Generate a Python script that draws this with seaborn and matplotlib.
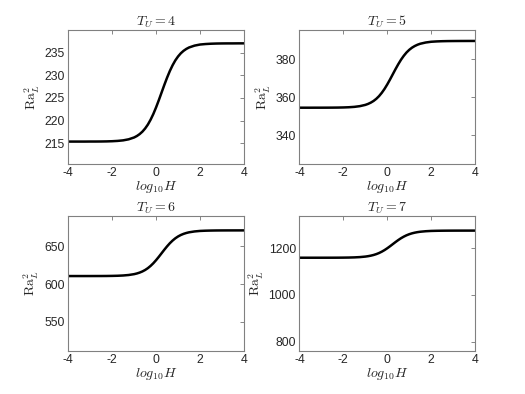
import numpy as np
import pandas as pd
import matplotlib
matplotlib.use("Agg")
import matplotlib.pyplot as plt
import seaborn as sns

# log10 H sample points (denser where the curves rise)
log10H = [-4, -3.75, -3.5, -3.25, -3, -2.75, -2.5, -2.25, -2, -1.75, -1.5, -1.25, -1,
          -0.875, -0.75, -0.625, -0.5, -0.375, -0.25, -0.125, 0, 0.125, 0.25, 0.375,
          0.5, 0.625, 0.75, 0.875, 1, 1.125, 1.25, 1.375, 1.5,
          1.75, 2, 2.25, 2.5, 2.75, 3, 3.25, 3.5, 3.75, 4]

# Ra_L^2
ra_tu4 = [215.35, 215.35, 215.35, 215.35, 215.36, 215.36, 215.37, 215.39, 215.43,
          215.50, 215.62, 215.85, 216.26,
          216.58, 217.00, 217.54, 218.24, 219.11, 220.19, 221.46, 222.92, 224.52,
          226.20, 227.88, 229.48, 230.94, 232.21, 233.29, 234.16, 234.86, 235.40,
          235.82, 236.14,
          236.55, 236.79, 236.90, 236.97, 237.01, 237.03, 237.04, 237.04, 237.05, 237.05]
ra_tu5 = [354.60, 354.60, 354.60, 354.61, 354.61, 354.62, 354.64, 354.67, 354.73,
          354.84, 355.04, 355.41, 356.07,
          356.59, 357.27, 358.14, 359.27, 360.68, 362.43, 364.48, 366.85, 369.43,
          372.15, 374.87, 377.45, 379.82, 381.87, 383.62, 385.03, 386.16, 387.03,
          387.71, 388.23,
          388.89, 389.28, 389.46, 389.57, 389.63, 389.66, 389.68, 389.69, 389.70, 389.70]
ra_tu6 = [610.50, 610.51, 610.51, 610.51, 610.52, 610.54, 610.56, 610.61, 610.72,
          610.90, 611.25, 611.89, 613.03,
          613.92, 615.08, 616.58, 618.52, 620.95, 623.95, 627.47, 631.54, 635.98,
          640.65, 645.32, 649.76, 653.83, 657.35, 660.35, 662.78, 664.72, 666.22,
          667.38, 668.27,
          669.41, 670.08, 670.40, 670.58, 670.69, 670.74, 670.77, 670.78, 670.79, 670.80]
ra_tu7 = [1158.50, 1158.51, 1158.51, 1158.52, 1158.53, 1158.57, 1158.62, 1158.72,
          1158.93, 1159.28, 1159.94, 1161.17, 1163.37,
          1165.08, 1167.32, 1170.20, 1173.93, 1178.60, 1184.37, 1191.14, 1198.98,
          1207.51, 1216.50, 1225.49, 1234.02, 1241.86, 1248.63, 1254.40, 1259.07,
          1262.80, 1265.68, 1267.92, 1269.63,
          1271.83, 1273.11, 1273.72, 1274.08, 1274.28, 1274.38, 1274.44, 1274.47,
          1274.49, 1274.50]

tu_values = [4, 5, 6, 7]
series = [ra_tu4, ra_tu5, ra_tu6, ra_tu7]
ylims = [(210.4, 240.1), (325, 395.7), (512, 689.5), (761, 1336)]
yticks = [[215, 220, 225, 230, 235], [340, 360, 380], [550, 600, 650], [800, 1000, 1200]]

sns.set_style("white")
plt.rcParams['font.family'] = ['Liberation Sans', 'DejaVu Sans']
plt.rcParams['mathtext.fontset'] = 'cm'
plt.rcParams['axes.unicode_minus'] = False

fig = plt.figure(figsize=(5.25, 3.94), dpi=100)
positions = [[0.13, 0.5838, 0.3347, 0.3412], [0.5703, 0.5838, 0.3347, 0.3412],
             [0.13, 0.11, 0.3347, 0.3412], [0.5703, 0.11, 0.3347, 0.3412]]

for pos, tu, ra, yl, yt in zip(positions, tu_values, series, ylims, yticks):
    ax = fig.add_axes(pos)
    df = pd.DataFrame({'log10H': log10H, 'Ra': ra})
    sns.lineplot(data=df, x='log10H', y='Ra', ax=ax, color='black', linewidth=1.8)
    ax.set_xlim(-4, 4)
    ax.set_ylim(*yl)
    ax.set_xticks([-4, -2, 0, 2, 4])
    ax.set_yticks(yt)
    ax.tick_params(direction='in', length=3, width=0.6, colors='0.45',
                   labelcolor='0.15', labelsize=8.8, top=True, right=True, pad=2.5)
    for s in ax.spines.values():
        s.set_color('0.5')
        s.set_linewidth(0.8)
    ax.set_title(r'$T_U = %d$' % tu, fontsize=10, pad=3)
    ax.set_xlabel(r'$log_{10}H$', fontsize=10, labelpad=0)
    ax.set_ylabel(r'$\mathrm{Ra}_L^2$', fontsize=10, labelpad=2)

fig.savefig('out.png', dpi=100)
